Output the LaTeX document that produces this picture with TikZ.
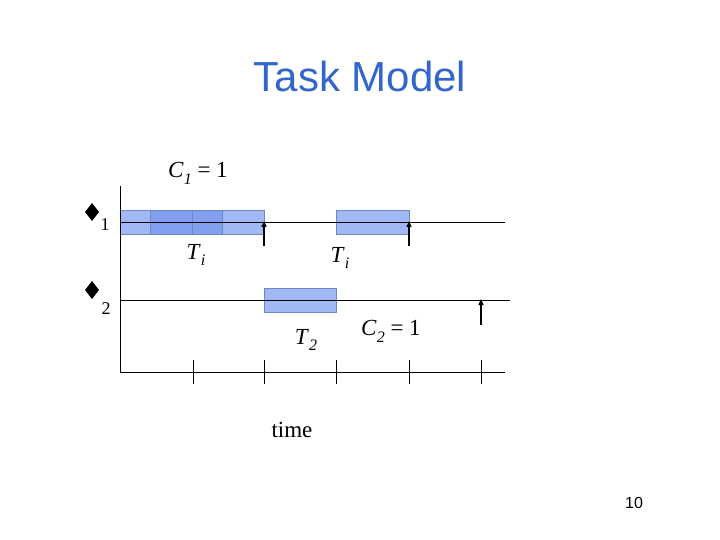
\documentclass[tikz,border=0pt]{standalone}
\usepackage{fontspec}
\setmainfont{Liberation Serif}
\newfontfamily\arialf{Liberation Sans}
\usetikzlibrary{arrows.meta}
\definecolor{titleblue}{RGB}{51,102,204}
\definecolor{boxfill}{RGB}{160,185,245}
\definecolor{darkfill}{RGB}{130,160,240}
\definecolor{boxedge}{RGB}{110,135,190}
\newcommand{\isub}[2]{\textit{#1}\raisebox{-0.3em}{\fontsize{16}{18}\selectfont\textit{#2}}}
\begin{document}
\begin{tikzpicture}[x=1pt,y=-1pt,
  job/.style={draw=boxedge,fill=boxfill,line width=0.8pt},
  djob/.style={draw=boxedge,fill=darkfill,line width=0.8pt},
  tl/.style={line width=0.8pt},
  arr/.style={line width=1.4pt,-{Triangle[length=6pt,width=5pt]}},
  lbl/.style={font=\fontsize{23}{25}\selectfont}]
\useasboundingbox (0,0) rectangle (720,540);
\node[font=\arialf\fontsize{42}{46}\selectfont,text=titleblue] (title) at (360,76) {Task Model};
% boxes
\draw[job] (120,210) rectangle (264,234);
\draw[djob] (150,210) rectangle (222,234);
\draw[boxedge,line width=0.8pt] (192,210) -- (192,234);
\draw[job] (336,210) rectangle (409,234);
\draw[job] (264,288) rectangle (336,312);
% axes
\coordinate (o) at (120,372);
\coordinate (top) at (120,186);
\coordinate (xe) at (505,372);
\draw[tl] (top) -- (o) -- (xe);
\coordinate (r1s) at (120,222); \coordinate (r1e) at (505,222);
\coordinate (r2s) at (120,300); \coordinate (r2e) at (510,300);
\draw[tl] (r1s) -- (r1e);
\draw[tl] (r2s) -- (r2e);
\foreach \x in {193,264,336,409,481} \draw[tl] (\x,360) -- (\x,384);
% arrows
\coordinate (a1s) at (264,246); \coordinate (a1e) at (264,221);
\coordinate (a2s) at (409,246); \coordinate (a2e) at (409,221);
\coordinate (a3s) at (481,325); \coordinate (a3e) at (481,299);
\draw[arr] (a1s) -- (a1e);
\draw[arr] (a2s) -- (a2e);
\draw[arr] (a3s) -- (a3e);
% diamonds
\fill (92,203) -- (99,212) -- (92,221) -- (85,212) -- cycle;
\fill (92,281) -- (99,290) -- (92,299) -- (85,290) -- cycle;
\node[font=\fontsize{18}{20}\selectfont] (s1) at (105,225) {1};
\node[font=\fontsize{18}{20}\selectfont] (s2) at (106,309) {2};
% labels
\node[lbl] (c1) at (198,173) {\isub{C}{1} = 1};
\node[lbl] (ti1) at (196,255) {\isub{T}{i}};
\node[lbl] (ti2) at (340,258) {\isub{T}{i}};
\node[lbl] (t2) at (306,340) {\isub{T}{2}};
\node[lbl] (c2) at (391,331) {\isub{C}{2} = 1};
\node[lbl] (time) at (292,430) {time};
\node[font=\arialf\fontsize{16}{18}\selectfont] (pg) at (634,503) {10};
\end{tikzpicture}
\end{document}
